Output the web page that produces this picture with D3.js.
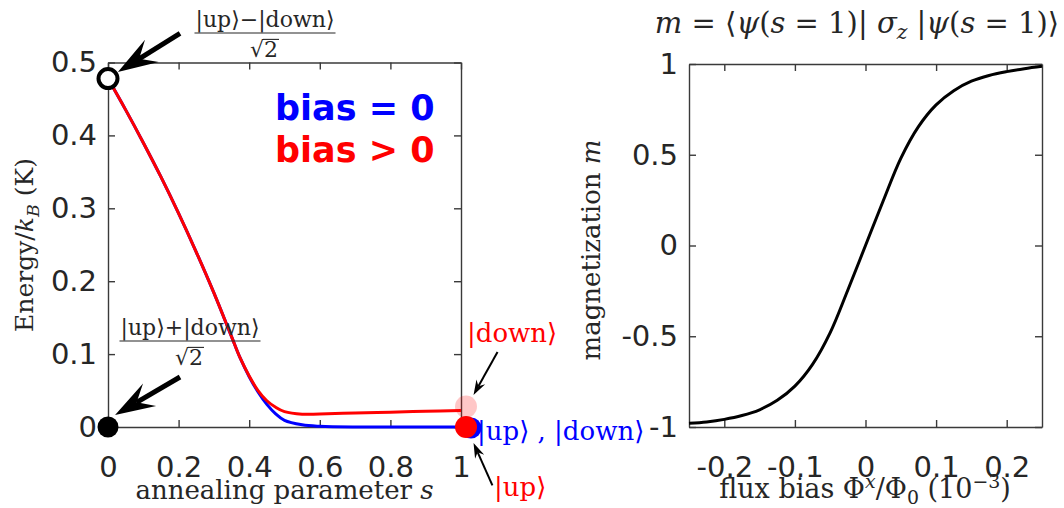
<!DOCTYPE html>
<html>
<head>
<meta charset="utf-8">
<script src="https://cdn.jsdelivr.net/npm/d3@7"></script>
<style>
  html, body { margin: 0; padding: 0; background: #fff; }
  svg { display: block; }
</style>
</head>
<body>
<script>
// ---- Energy gap vs annealing parameter ----
const sValues = [0, 0.05, 0.1, 0.15, 0.2, 0.25, 0.3, 0.35, 0.375, 0.4, 0.425, 0.45, 0.475, 0.5, 0.55, 0.6, 0.7, 0.8, 0.9, 1.0];
const energyBiased = [0.478, 0.435, 0.390, 0.343, 0.293, 0.240, 0.184, 0.124, 0.094, 0.070, 0.050, 0.036, 0.027, 0.021, 0.0175, 0.018, 0.0192, 0.0204, 0.0215, 0.0225];
const energyUnbiased = [0.478, 0.435, 0.390, 0.343, 0.293, 0.240, 0.184, 0.124, 0.094, 0.069, 0.048, 0.031, 0.018, 0.009, 0.003, 0.001, 0, 0, 0, 0];
const sTicks = [0, 0.2, 0.4, 0.6, 0.8, 1];
const sTickLabels = ["0", "0.2", "0.4", "0.6", "0.8", "1"];
const energyTicks = [0, 0.1, 0.2, 0.3, 0.4, 0.5];
const energyTickLabels = ["0", "0.1", "0.2", "0.3", "0.4", "0.5"];

// ---- Magnetization vs flux bias ----
const fluxValues = [-0.25, -0.225, -0.2, -0.175, -0.15, -0.125, -0.1, -0.075, -0.05, -0.025, 0, 0.025, 0.05, 0.075, 0.1, 0.125, 0.15, 0.175, 0.2, 0.225, 0.25];
const magnetization = [-0.98, -0.972, -0.958, -0.937, -0.905, -0.853, -0.775, -0.655, -0.48, -0.245, 0, 0.245, 0.48, 0.655, 0.775, 0.853, 0.905, 0.937, 0.958, 0.974, 0.987];
const fluxTicks = [-0.2, -0.1, 0, 0.1, 0.2];
const fluxTickLabels = ["-0.2", "-0.1", "0", "0.1", "0.2"];
const magTicks = [-1, -0.5, 0, 0.5, 1];
const magTickLabels = ["-1", "-0.5", "0", "0.5", "1"];

const W = 1064, H = 508;
const SANS = "'DejaVu Sans', sans-serif";
const SERIF = "'DejaVu Serif', serif";
const INK = "#262626";
const AXIS = "#3a3a3a";
const BLUE = "#0000ff", RED = "#ff0000";

const svg = d3.select("body").append("svg").attr("width", W).attr("height", H);
svg.append("rect").attr("width", W).attr("height", H).attr("fill", "#fff");

// scales
const xL = d3.scaleLinear().domain([0, 1]).range([108, 461]);
const yL = d3.scaleLinear().domain([0, 0.5]).range([427, 62.5]);
const xR = d3.scaleLinear().domain([-0.25, 0.25]).range([689, 1042]);
const yR = d3.scaleLinear().domain([-1, 1]).range([427, 64]);

const TICK = 7, FS_TICK = 29;

function styleAxis(g) {
  g.selectAll("path.domain").attr("stroke", AXIS).attr("stroke-width", 1.4);
  g.selectAll(".tick line").attr("stroke", AXIS).attr("stroke-width", 1.4);
  g.selectAll(".tick text").attr("fill", INK).attr("font-family", SANS).attr("font-size", FS_TICK);
}

function drawBox(x, y, xt, xtl, yt, ytl) {
  const [x0, x1] = x.range(), [y0, y1] = y.range();
  const fmtX = d => xtl[xt.indexOf(d)];
  const fmtY = d => ytl[yt.indexOf(d)];
  svg.append("g").attr("transform", `translate(0,${y0})`)
    .call(d3.axisBottom(x).tickValues(xt).tickFormat(fmtX).tickSize(-TICK).tickSizeOuter(0).tickPadding(29))
    .call(styleAxis).call(g => g.selectAll(".tick text").attr("dy", "0.71em"));
  svg.append("g").attr("transform", `translate(0,${y1})`)
    .call(d3.axisTop(x).tickValues(xt).tickFormat("").tickSize(-TICK).tickSizeOuter(0))
    .call(styleAxis);
  svg.append("g").attr("transform", `translate(${x0},0)`)
    .call(d3.axisLeft(y).tickValues(yt).tickFormat(fmtY).tickSize(-TICK).tickSizeOuter(0).tickPadding(11))
    .call(styleAxis);
  svg.append("g").attr("transform", `translate(${x1},0)`)
    .call(d3.axisRight(y).tickValues(yt).tickFormat("").tickSize(-TICK).tickSizeOuter(0))
    .call(styleAxis);
}

// rich text with italic / sub / superscript parts
function richText(parent, parts, size, fill) {
  const text = parent.append("text").attr("font-family", SERIF).attr("font-size", size).attr("fill", fill || INK);
  let shift = 0;
  parts.forEach(p => {
    const ts = text.append("tspan").text(p.t);
    if (p.i) ts.attr("font-style", "italic");
    const target = p.sub ? size * 0.22 : p.sup ? -size * 0.38 : 0;
    if (target !== shift) ts.attr("dy", target - shift);
    shift = target;
    if (p.sub || p.sup) ts.attr("font-size", size * 0.7);
  });
  return text;
}

// annotation arrow with a swept-back head
function arrow(from, to, width, headLen, headHalf, notch, color) {
  const dx = to[0] - from[0], dy = to[1] - from[1], L = Math.hypot(dx, dy);
  const ux = dx / L, uy = dy / L, nx = -uy, ny = ux;
  const base = [to[0] - ux * notch, to[1] - uy * notch];
  svg.append("line").attr("x1", from[0]).attr("y1", from[1]).attr("x2", base[0]).attr("y2", base[1])
    .attr("stroke", color).attr("stroke-width", width);
  const pts = [
    to,
    [to[0] - ux * headLen + nx * headHalf, to[1] - uy * headLen + ny * headHalf],
    base,
    [to[0] - ux * headLen - nx * headHalf, to[1] - uy * headLen - ny * headHalf]
  ];
  svg.append("polygon").attr("points", pts.map(p => p.join(",")).join(" ")).attr("fill", color);
}

// fraction (ket)/sqrt(2)
function ketFraction(cx, baseY, numParts, size) {
  const g = svg.append("g");
  const num = richText(g, numParts, size).attr("x", cx).attr("y", baseY).attr("text-anchor", "middle");
  const w = num.node().getComputedTextLength();
  const barY = baseY + 6;
  g.append("line").attr("x1", cx - w / 2 - 1).attr("x2", cx + w / 2 + 1).attr("y1", barY).attr("y2", barY)
    .attr("stroke", INK).attr("stroke-width", 1.2);
  const rootY = barY + 24;
  const two = g.append("text").attr("font-family", SERIF).attr("font-size", size).attr("fill", INK)
    .attr("x", cx - 1).attr("y", rootY).text("2");
  const tw = two.node().getComputedTextLength();
  g.append("text").attr("font-family", SERIF).attr("font-size", size).attr("fill", INK)
    .attr("x", cx - 1).attr("y", rootY).attr("text-anchor", "end").text("\u221A");
  g.append("line").attr("x1", cx - 2).attr("x2", cx + tw).attr("y1", rootY - size * 0.8).attr("y2", rootY - size * 0.8)
    .attr("stroke", INK).attr("stroke-width", 1.1);
}

// ================= left panel =================
drawBox(xL, yL, sTicks, sTickLabels, energyTicks, energyTickLabels);

const lineL = d3.line().x(d => xL(d[0])).y(d => yL(d[1])).curve(d3.curveCatmullRom.alpha(0.5));
svg.append("path").datum(sValues.map((s, i) => [s, energyUnbiased[i]]))
  .attr("d", lineL).attr("fill", "none").attr("stroke", BLUE).attr("stroke-width", 3);
svg.append("path").datum(sValues.map((s, i) => [s, energyBiased[i]]))
  .attr("d", lineL).attr("fill", "none").attr("stroke", RED).attr("stroke-width", 3);

// state markers at s = 0
svg.append("circle").attr("cx", xL(0)).attr("cy", yL(energyBiased[0])).attr("r", 9.5)
  .attr("fill", "#fff").attr("stroke", "#000").attr("stroke-width", 4);
svg.append("circle").attr("cx", xL(0)).attr("cy", yL(0)).attr("r", 10.5).attr("fill", "#000");

// state markers at s = 1
const endS = sValues[sValues.length - 1];
svg.append("circle").attr("cx", xL(endS) + 5).attr("cy", yL(energyBiased[energyBiased.length - 1]) - 4).attr("r", 11)
  .attr("fill", RED).attr("fill-opacity", 0.22);
svg.append("circle").attr("cx", xL(endS) + 10).attr("cy", yL(0) + 1).attr("r", 10.5).attr("fill", BLUE);
svg.append("circle").attr("cx", xL(endS) + 5).attr("cy", yL(0)).attr("r", 11).attr("fill", RED);

// arrows (data-space endpoints)
arrow([xL(0.204), yL(0.540)], [xL(0.028), yL(0.487)], 5, 40, 13, 25, "#000");
arrow([xL(0.204), yL(0.0686)], [xL(0.02), yL(0.0165)], 5, 40, 13, 25, "#000");
arrow([xL(1.1035), yL(0.103)], [xL(1.0355), yL(0.044)], 2, 15, 5, 10, "#000");
arrow([xL(1.089), yL(-0.080)], [xL(1.0355), yL(-0.022)], 2, 15, 5, 10, "#000");

// state labels
ketFraction(265, 27, [{ t: "|up\u27E9\u2212|down\u27E9" }], 22);
ketFraction(190, 335, [{ t: "|up\u27E9+|down\u27E9" }], 22);
richText(svg, [{ t: "|down\u27E9" }], 26, RED).attr("x", 467).attr("y", 342);
richText(svg, [{ t: "|up\u27E9 , |down\u27E9" }], 26, BLUE).attr("x", 477).attr("y", 440);
richText(svg, [{ t: "|up\u27E9" }], 26, RED).attr("x", 494).attr("y", 496);

// bias legend text
svg.append("text").attr("x", 275).attr("y", 120).attr("font-family", SANS).attr("font-weight", "bold")
  .attr("font-size", 35).attr("fill", BLUE).text("bias = 0");
svg.append("text").attr("x", 275).attr("y", 162).attr("font-family", SANS).attr("font-weight", "bold")
  .attr("font-size", 35).attr("fill", RED).text("bias > 0");

// axis labels
richText(svg, [{ t: "annealing parameter " }, { t: "s", i: true }], 26)
  .attr("x", (xL.range()[0] + xL.range()[1]) / 2).attr("y", 499).attr("text-anchor", "middle");
richText(svg.append("g").attr("transform", "translate(33,245) rotate(-90)"),
  [{ t: "Energy/" }, { t: "k", i: true }, { t: "B", i: true, sub: true }, { t: " (K)" }], 25)
  .attr("text-anchor", "middle");

// ================= right panel =================
drawBox(xR, yR, fluxTicks, fluxTickLabels, magTicks, magTickLabels);

const lineR = d3.line().x(d => xR(d[0])).y(d => yR(d[1])).curve(d3.curveCatmullRom.alpha(0.5));
svg.append("path").datum(fluxValues.map((f, i) => [f, magnetization[i]]))
  .attr("d", lineR).attr("fill", "none").attr("stroke", "#000").attr("stroke-width", 3);

richText(svg, [
  { t: "m", i: true }, { t: " = \u27E8" }, { t: "\u03C8", i: true }, { t: "(" }, { t: "s", i: true },
  { t: " = 1)| " }, { t: "\u03C3", i: true }, { t: "z", i: true, sub: true }, { t: " |" },
  { t: "\u03C8", i: true }, { t: "(" }, { t: "s", i: true }, { t: " = 1)\u27E9" }
], 29).attr("x", 857).attr("y", 33).attr("text-anchor", "middle");

richText(svg.append("g").attr("transform", "translate(600,250) rotate(-90)"),
  [{ t: "magnetization " }, { t: "m", i: true }], 26).attr("text-anchor", "middle");

richText(svg, [
  { t: "flux bias \u03A6" }, { t: "x", i: true, sup: true }, { t: "/\u03A6" }, { t: "0", sub: true },
  { t: " (10" }, { t: "\u22123", sup: true }, { t: ")" }
], 27).attr("x", 865).attr("y", 498).attr("text-anchor", "middle");
</script>
</body>
</html>
